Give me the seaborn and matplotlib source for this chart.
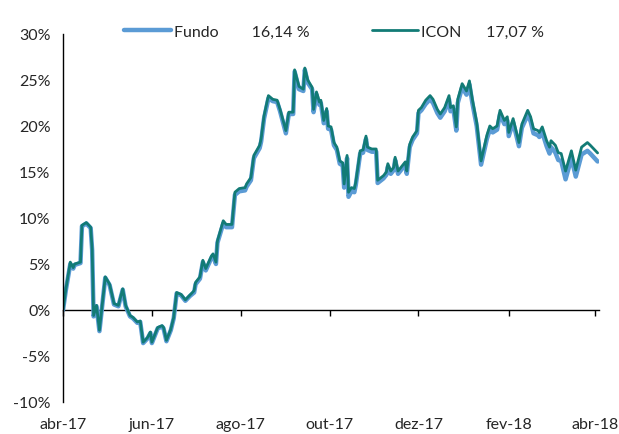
import seaborn as sns
import matplotlib.pyplot as plt
import matplotlib.dates as mdates
import pandas as pd

# values in %
dates = [
    "2017-04-01", "2017-04-03", "2017-04-06", "2017-04-08", "2017-04-09", "2017-04-13",
    "2017-04-14", "2017-04-17", "2017-04-20", "2017-04-21", "2017-04-22", "2017-04-24",
    "2017-04-26", "2017-04-30", "2017-05-03", "2017-05-06", "2017-05-09", "2017-05-12",
    "2017-05-14", "2017-05-17", "2017-05-19", "2017-05-22", "2017-05-24", "2017-05-26",
    "2017-05-29", "2017-05-31", "2017-06-01", "2017-06-05", "2017-06-08", "2017-06-09",
    "2017-06-11", "2017-06-14", "2017-06-16", "2017-06-18", "2017-06-21", "2017-06-24",
    "2017-06-27", "2017-06-30", "2017-07-01", "2017-07-04", "2017-07-06", "2017-07-08",
    "2017-07-12", "2017-07-13", "2017-07-15", "2017-07-16", "2017-07-20", "2017-07-22",
    "2017-07-26", "2017-07-28", "2017-07-31", "2017-08-04", "2017-08-05", "2017-08-08",
    "2017-08-10", "2017-08-14", "2017-08-15", "2017-08-17", "2017-08-20", "2017-08-23",
    "2017-08-26", "2017-08-28", "2017-09-01", "2017-09-03", "2017-09-06", "2017-09-07",
    "2017-09-10", "2017-09-13", "2017-09-14", "2017-09-16", "2017-09-19", "2017-09-20",
    "2017-09-22", "2017-09-24", "2017-09-25", "2017-09-27", "2017-09-29", "2017-09-30",
    "2017-10-02", "2017-10-04", "2017-10-06", "2017-10-08", "2017-10-10", "2017-10-11",
    "2017-10-13", "2017-10-14", "2017-10-16", "2017-10-18", "2017-10-19", "2017-10-22",
    "2017-10-24", "2017-10-26", "2017-10-27", "2017-10-30", "2017-11-02", "2017-11-03",
    "2017-11-07", "2017-11-09", "2017-11-10", "2017-11-12", "2017-11-14", "2017-11-15",
    "2017-11-17", "2017-11-19", "2017-11-22", "2017-11-23", "2017-11-25", "2017-11-27",
    "2017-11-30", "2017-12-01", "2017-12-03", "2017-12-06", "2017-12-09", "2017-12-11",
    "2017-12-14", "2017-12-16", "2017-12-19", "2017-12-22", "2017-12-23", "2017-12-25",
    "2017-12-27", "2017-12-28", "2017-12-31", "2018-01-03", "2018-01-05", "2018-01-07",
    "2018-01-10", "2018-01-13", "2018-01-17", "2018-01-19", "2018-01-21", "2018-01-24",
    "2018-01-26", "2018-01-29", "2018-01-31", "2018-02-01", "2018-02-04", "2018-02-08",
    "2018-02-10", "2018-02-14", "2018-02-16", "2018-02-18", "2018-02-21", "2018-02-22",
    "2018-02-24", "2018-02-27", "2018-03-01", "2018-03-02", "2018-03-05", "2018-03-07",
    "2018-03-09", "2018-03-12", "2018-03-16", "2018-03-19", "2018-03-23", "2018-03-27",
    "2018-03-29", "2018-04-03",
]

icon = [
    0.0, 2.3, 5.2, 4.6, 5.0, 5.2,
    9.2, 9.5, 9.0, 6.6, -0.6, 0.5,
    -2.2, 3.6, 2.8, 0.7, 0.5, 2.3,
    0.5, -0.6, -0.8, -1.3, -1.2, -3.5,
    -3.0, -2.4, -3.5, -1.9, -1.7, -1.9,
    -3.3, -2.1, -0.8, 1.9, 1.7, 1.1,
    1.6, 2.1, 3.0, 3.6, 5.4, 4.5,
    5.9, 6.1, 5.2, 7.5, 9.7, 9.3,
    9.3, 12.8, 13.2, 13.3, 13.7, 14.4,
    16.8, 17.9, 18.6, 21.1, 23.3, 22.9,
    22.8, 21.8, 19.5, 21.5, 21.5, 26.1,
    24.3, 24.0, 26.3, 25.0, 24.2, 21.8,
    23.7, 22.6, 22.8, 20.6, 21.9, 20.0,
    19.9, 18.2, 17.7, 16.2, 16.0, 13.7,
    16.8, 12.8, 13.3, 13.2, 13.9, 17.3,
    17.4, 18.9, 17.7, 17.5, 17.5, 14.1,
    14.6, 15.0, 15.9, 15.1, 15.5, 16.6,
    15.1, 15.5, 16.1, 15.1, 18.0, 18.8,
    19.5, 21.7, 22.0, 22.8, 23.3, 22.9,
    21.8, 21.3, 22.0, 23.3, 22.0, 22.2,
    19.9, 22.9, 24.6, 23.8, 24.9, 22.9,
    20.4, 16.2, 19.0, 20.0, 19.7, 20.0,
    21.7, 20.6, 21.0, 19.3, 20.8, 18.2,
    20.2, 21.7, 21.0, 19.7, 19.5, 19.3,
    19.9, 18.4, 17.7, 18.4, 17.9, 17.1,
    17.0, 15.1, 17.3, 15.2, 17.7, 18.2,
    17.9, 17.07,
]

fundo = [
    0.0, 2.2, 5.0, 4.5, 4.9, 5.1,
    9.1, 9.4, 8.9, 6.5, -0.7, 0.4,
    -2.3, 3.5, 2.7, 0.6, 0.4, 2.2,
    0.4, -0.7, -0.9, -1.4, -1.3, -3.6,
    -3.1, -2.5, -3.6, -2.0, -1.8, -2.0,
    -3.4, -2.2, -0.9, 1.8, 1.6, 1.0,
    1.5, 1.9, 2.8, 3.4, 5.2, 4.3,
    5.7, 5.9, 5.0, 7.3, 9.4, 9.0,
    9.0, 12.5, 12.9, 13.0, 13.4, 14.1,
    16.5, 17.6, 18.3, 20.8, 23.0, 22.7,
    22.6, 21.6, 19.2, 21.3, 21.3, 25.9,
    24.0, 23.8, 26.1, 24.7, 24.0, 21.5,
    23.4, 22.3, 22.5, 20.3, 21.6, 19.7,
    19.6, 17.9, 17.4, 15.9, 15.7, 13.3,
    16.5, 12.3, 12.9, 12.8, 13.6, 17.0,
    17.1, 18.6, 17.4, 17.2, 17.2, 13.8,
    14.3, 14.7, 15.6, 14.8, 15.2, 16.3,
    14.8, 15.2, 15.8, 14.8, 17.7, 18.5,
    19.2, 21.4, 21.7, 22.4, 22.9, 22.5,
    21.4, 20.9, 21.6, 22.9, 21.6, 21.8,
    19.5, 22.5, 24.2, 23.4, 24.5, 22.5,
    20.0, 15.8, 18.6, 19.6, 19.3, 19.6,
    21.3, 20.2, 20.6, 18.9, 20.4, 17.8,
    19.8, 21.2, 20.5, 19.2, 19.0, 18.8,
    19.3, 17.8, 17.0, 17.7, 17.1, 16.3,
    16.2, 14.2, 16.5, 14.5, 16.9, 17.3,
    17.0, 16.14,
]

tick_dates = ["2017-04-01", "2017-06-01", "2017-08-01", "2017-10-01",
              "2017-12-01", "2018-02-01", "2018-04-01"]
tick_labels = ["abr-17", "jun-17", "ago-17", "out-17", "dez-17", "fev-18", "abr-18"]
y_ticks = [-10, -5, 0, 5, 10, 15, 20, 25, 30]

df = pd.DataFrame({"data": pd.to_datetime(dates), "Fundo": fundo, "ICON": icon})

sns.set_style("white")
plt.rcParams["font.family"] = ["Lato", "DejaVu Sans"]

fig = plt.figure(figsize=(6.19, 4.35), dpi=100)
ax = fig.add_axes([0.1018, 0.0736, 0.866, 0.846])

sns.lineplot(data=df, x="data", y="Fundo", ax=ax, color="#5B9BD5", linewidth=3.2,
             label="Fundo        16,14 %")
sns.lineplot(data=df, x="data", y="ICON", ax=ax, color="#127B76", linewidth=2.0,
             label="ICON      17,07 %")

ax.set_xlim(pd.Timestamp("2017-04-01"), pd.Timestamp("2018-04-04"))
ax.set_ylim(-10, 30)
ax.set_yticks(y_ticks)
ax.set_yticklabels([f"{v}%" for v in y_ticks], fontsize=11.5)
ax.tick_params(axis="y", length=0, pad=9)

xt = [mdates.date2num(pd.Timestamp(d)) for d in tick_dates]
ax.set_xticks(xt)
ax.set_xticklabels(tick_labels, fontsize=11.5)
ax.tick_params(axis="x", length=0, pad=11)
ax.set_xlabel("")
ax.set_ylabel("")

for s in ["top", "right", "bottom"]:
    ax.spines[s].set_visible(False)
ax.spines["left"].set_color("black")
ax.spines["left"].set_linewidth(1.0)

# zero line with tick marks, labels stay at the bottom
zero_frac = (0 - (-10)) / 40
sec = ax.secondary_xaxis(zero_frac)
sec.set_xticks(xt)
sec.set_xticklabels([""] * len(xt))
sec.tick_params(axis="x", direction="out", length=4, width=1.0, color="black")
sec.spines["bottom"].set_color("black")
sec.spines["bottom"].set_linewidth(1.0)

leg = ax.legend(loc="upper center", bbox_to_anchor=(0.506, 1.065), ncol=2, frameon=False,
                fontsize=11.5, handlelength=2.9, columnspacing=3.9, handletextpad=0.2)

fig.savefig("out.png", dpi=100)
